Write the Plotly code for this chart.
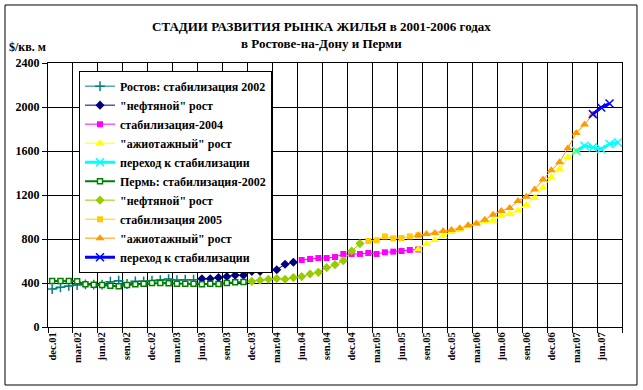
import plotly.graph_objects as go

# ---------------- data ----------------
month_names = ["jan", "feb", "mar", "apr", "may", "jun", "jul", "aug", "sen", "okt", "nov", "dec"]
# 69 monthly categories: dec.01 ... aug.07
categories = ["dec.01"] + [f"{month_names[m]}.{y:02d}" for y in range(2, 8) for m in range(12)][:68]
tick_step = 3

# Rostov-on-Don
rostov_stab2002_start = 0
rostov_stab2002 = [345, 361, 373, 382, 388, 385, 385, 412, 421, 391, 415, 415, 421, 427, 436, 427, 430, 430]
rostov_oil_start = 18
rostov_oil = [439, 439, 449, 458, 470, 470, 506, 506, 530, 521, 570, 588]
rostov_stab2004_start = 30
rostov_stab2004 = [609, 618, 627, 627, 636, 664, 664, 664, 673, 664, 679, 685, 691, 700, 705]
rostov_boom_start = 44
rostov_boom = [705, 755, 791, 830, 864, 882, 915, 942, 961, 967, 1009, 1027, 1058, 1109, 1173,
               1266, 1362, 1437, 1543, 1600]
rostov_trans_start = 63
rostov_trans = [1600, 1648, 1633, 1618, 1663, 1678]

# Perm
perm_stab2002_start = 0
perm_stab2002 = [418, 418, 418, 415, 388, 385, 382, 376, 370, 382, 388, 394, 400, 400, 397, 394,
                 394, 394, 388, 394, 392, 400, 406, 410]
perm_oil_start = 24
perm_oil = [415, 425, 434, 440, 434, 449, 458, 482, 497, 540, 567, 603, 691, 758]
perm_stab2005_start = 38
perm_stab2005 = [782, 788, 824, 806, 809, 824, 833]
perm_boom_start = 44
perm_boom = [833, 845, 855, 873, 882, 897, 924, 942, 976, 1021, 1055, 1082, 1145, 1185, 1251,
             1342, 1425, 1498, 1625, 1763, 1842, 1935]
perm_trans_start = 65
perm_trans = [1935, 1995, 2032]

y_ticks = [0, 400, 800, 1200, 1600, 2000, 2400]

# ---------------- figure ----------------
FONT = "Liberation Serif"

series = [
    ("Ростов: стабилизация 2002", rostov_stab2002_start, rostov_stab2002, "#008080", 1,
     dict(symbol="cross-thin", size=7, line=dict(color="#008080", width=1.5))),
    ("\"нефтяной\" рост", rostov_oil_start, rostov_oil, "#000080", 1,
     dict(symbol="diamond", size=7, color="#000080", line=dict(width=0))),
    ("стабилизация-2004", rostov_stab2004_start, rostov_stab2004, "#FF00FF", 1,
     dict(symbol="square", size=6, color="#FF00FF", line=dict(width=0))),
    ("\"ажиотажный\" рост", rostov_boom_start, rostov_boom, "#FFFF00", 1,
     dict(symbol="triangle-up", size=8, color="#FFFF00", line=dict(width=0))),
    ("переход к стабилизации", rostov_trans_start, rostov_trans, "#00FFFF", 3,
     dict(symbol="x-thin", size=8, line=dict(color="#00FFFF", width=1.5))),
    ("Пермь: стабилизация-2002", perm_stab2002_start, perm_stab2002, "#008000", 2,
     dict(symbol="square", size=5, color="white", line=dict(color="#008000", width=1.5))),
    ("\"нефтяной\" рост", perm_oil_start, perm_oil, "#99CC00", 1,
     dict(symbol="diamond", size=7, color="#99CC00", line=dict(width=0))),
    ("стабилизация 2005", perm_stab2005_start, perm_stab2005, "#FFCC00", 1,
     dict(symbol="square", size=6, color="#FFCC00", line=dict(width=0))),
    ("\"ажиотажный\" рост", perm_boom_start, perm_boom, "#FF9900", 1,
     dict(symbol="triangle-up", size=8, color="#FF9900", line=dict(width=0))),
    ("переход к стабилизации", perm_trans_start, perm_trans, "#0000FF", 3,
     dict(symbol="x-thin", size=8, line=dict(color="#0000FF", width=1.5))),
]

fig = go.Figure()
for name, start, vals, color, lw, marker in series:
    xs = list(range(start, start + len(vals)))
    fig.add_trace(go.Scatter(
        x=xs, y=vals, name=name, mode="lines+markers",
        line=dict(color=color, width=lw), marker=marker,
        text=[categories[i] for i in xs], hovertemplate="%{text}: %{y}<extra></extra>",
    ))

n = len(categories)
tickvals = list(range(0, n, tick_step))
ticktext = [categories[i] for i in tickvals]
boundaries = [i - 0.5 for i in range(0, n + 1, tick_step)]

fig.update_layout(
    width=643, height=390,
    margin=dict(l=48, r=21, t=63, b=63),
    paper_bgcolor="white", plot_bgcolor="white",
    font=dict(family=FONT, size=11, color="black", weight="bold"),
    showlegend=True,
    legend=dict(
        x=0.054, y=0.971, xanchor="left", yanchor="top",
        bgcolor="white", bordercolor="black", borderwidth=1,
        font=dict(family=FONT, size=12, color="black", weight="bold"),
        tracegroupgap=0,
    ),
    xaxis=dict(
        range=[-0.5, n - 0.5], tickmode="array", tickvals=tickvals, ticktext=ticktext,
        tickangle=-90, ticks="", showgrid=False, zeroline=False,
        showline=True, linecolor="black", linewidth=1, mirror=True,
        tickfont=dict(family=FONT, size=10.5, color="black", weight="bold"),
        minor=dict(tickmode="array", tickvals=boundaries, ticks="outside", ticklen=5,
                   tickcolor="black", tickwidth=1, showgrid=True, gridcolor="black", gridwidth=1),
    ),
    yaxis=dict(
        range=[0, 2400], tickmode="array", tickvals=y_ticks,
        ticks="outside", ticklen=5, tickcolor="black",
        showgrid=True, gridcolor="black", gridwidth=1, zeroline=False,
        showline=True, linecolor="black", linewidth=1, mirror=True,
        tickfont=dict(family=FONT, size=12, color="black", weight="bold"),
    ),
    annotations=[
        dict(text="СТАДИИ РАЗВИТИЯ РЫНКА ЖИЛЬЯ в 2001-2006 годах", xref="paper", yref="paper",
             x=0.476, y=1.140, xanchor="center", yanchor="middle", showarrow=False,
             font=dict(family=FONT, size=13, color="black", weight="bold")),
        dict(text="в Ростове-на-Дону и Перми", xref="paper", yref="paper",
             x=0.476, y=1.072, xanchor="center", yanchor="middle", showarrow=False,
             font=dict(family=FONT, size=13, color="black", weight="bold")),
        dict(text="$/кв. м", xref="paper", yref="paper",
             x=-0.072, y=1.06, xanchor="left", yanchor="middle", showarrow=False,
             font=dict(family=FONT, size=12, color="black", weight="bold")),
    ],
    shapes=[
        dict(type="rect", xref="paper", yref="paper", x0=-0.0749, x1=1.0261, y0=-0.2197, y1=1.2197,
             line=dict(color="black", width=1), fillcolor="rgba(0,0,0,0)", layer="below"),
    ],
)

fig.write_html("out.html", config={"displayModeBar": False},
               post_script="document.body.style.margin='0';")
